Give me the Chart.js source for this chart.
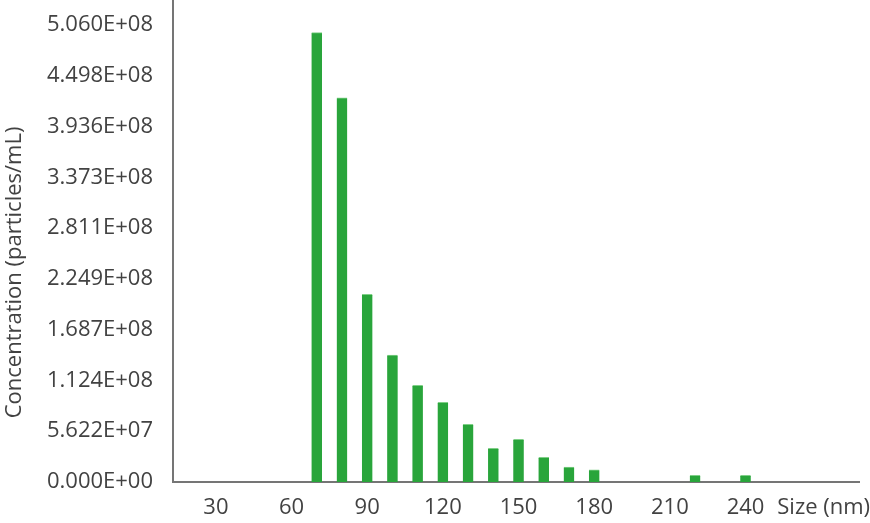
<!DOCTYPE html>
<html>
<head>
<meta charset="utf-8">
<script src="https://cdn.jsdelivr.net/npm/chart.js@4.4.1/dist/chart.umd.min.js"></script>
<style>
  html, body { margin: 0; padding: 0; background: #fff; }
  #wrap { width: 870px; height: 523px; }
</style>
</head>
<body>
<div id="wrap"><canvas id="sizeChart" width="870" height="523"></canvas></div>
<script>
// particle size bins (nm) and concentration (particles/mL)
const sizes = [70, 80, 90, 100, 110, 120, 130, 140, 150, 160, 170, 180, 220, 240];
const concentration = [4.975e8, 4.255e8, 2.078e8, 1.406e8, 1.071e8, 8.82e7, 6.39e7,
                       3.73e7, 4.73e7, 2.73e7, 1.66e7, 1.36e7, 7.4e6, 7.4e6];

// axis ticks
const xTicks = [30, 60, 90, 120, 150, 180, 210, 240];
const yTicks = [0, 5.622e7, 1.124e8, 1.687e8, 2.249e8, 2.811e8, 3.373e8, 3.936e8, 4.498e8, 5.060e8];
const yTickLabels = ['0.000E+00', '5.622E+07', '1.124E+08', '1.687E+08', '2.249E+08',
                     '2.811E+08', '3.373E+08', '3.936E+08', '4.498E+08', '5.060E+08'];
const xUnitLabel = 'Size (nm)';
const xUnitPos = 271;
const yAxisMax = 5.337e8; // axis line runs a bit above the top tick

const textColor = '#424242';
const axisColor = '#757575';
const tickFont = { family: 'Open Sans', size: 22 };

// trailing spaces push the centred title a little lower, like the original
const yTitle = 'Concentration (particles/mL)' + '\u00a0'.repeat(11);

const ctx = document.getElementById('sizeChart');

new Chart(ctx, {
    type: 'bar',
    data: {
        datasets: [{
            data: sizes.map((s, i) => ({ x: s, y: concentration[i] })),
            backgroundColor: '#29a53b',
            borderColor: '#7fcf87',
            borderWidth: { top: 1, left: 0, right: 0, bottom: 0 },
            barThickness: 10.5
        }]
    },
    options: {
        responsive: false,
        animation: false,
        layout: { padding: { top: 0, right: 11, left: 0, bottom: 0 } },
        plugins: { legend: { display: false }, tooltip: { enabled: false } },
        scales: {
            x: {
                type: 'linear',
                min: 13,
                max: 285,
                offset: false,
                grid: { display: false, drawTicks: false },
                border: { display: true, color: axisColor, width: 2 },
                afterBuildTicks: (scale) => {
                    scale.ticks = xTicks.concat([xUnitPos]).map(v => ({ value: v }));
                },
                afterFit: (scale) => {
                    scale.height = 41;
                    scale.paddingLeft = 0;
                    scale.paddingRight = 0;
                },
                ticks: {
                    color: textColor,
                    font: tickFont,
                    padding: 13,
                    maxRotation: 0,
                    autoSkip: false,
                    callback: (v) => v === xUnitPos ? xUnitLabel : String(v)
                }
            },
            y: {
                min: 0,
                max: yAxisMax,
                grid: { display: false, drawTicks: false },
                border: { display: true, color: axisColor, width: 2 },
                afterBuildTicks: (scale) => {
                    scale.ticks = yTicks.map(v => ({ value: v }));
                },
                afterFit: (scale) => {
                    scale.width = 173;
                    scale.paddingTop = 0;
                    scale.paddingBottom = 0;
                },
                ticks: {
                    color: textColor,
                    font: tickFont,
                    padding: 20,
                    autoSkip: false,
                    callback: (v) => {
                        const i = yTicks.indexOf(v);
                        return i >= 0 ? yTickLabels[i] : '';
                    }
                },
                title: {
                    display: true,
                    text: yTitle,
                    color: textColor,
                    font: { family: 'Open Sans', size: 22 },
                    padding: { top: 2, bottom: 0 }
                }
            }
        }
    }
});
</script>
</body>
</html>
